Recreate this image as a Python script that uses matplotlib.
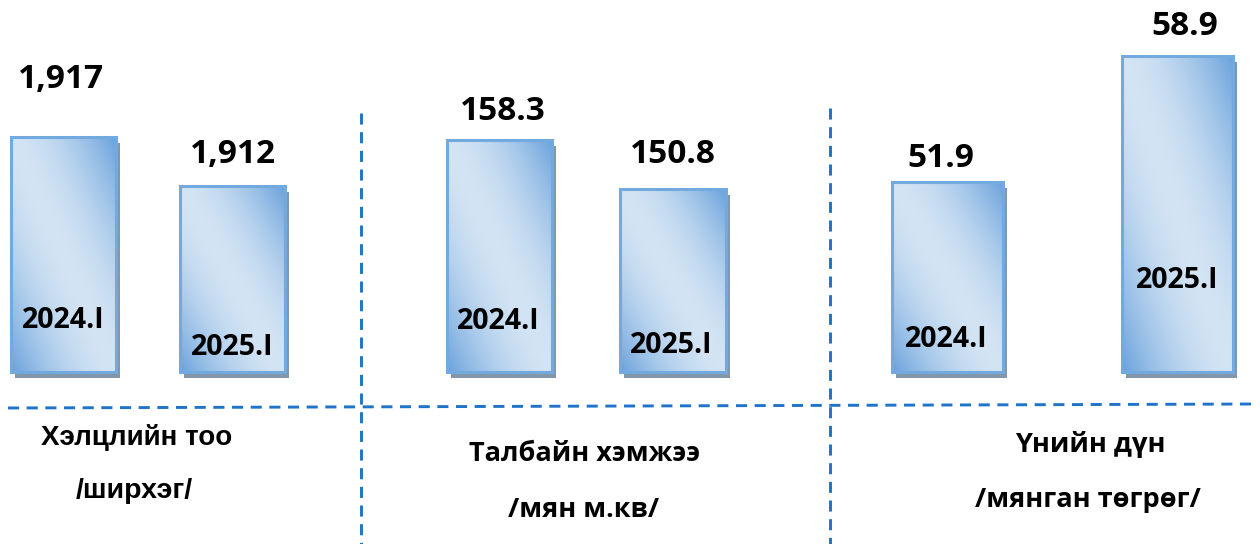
import numpy as np
import matplotlib.pyplot as plt
from matplotlib.lines import Line2D
from matplotlib.colors import to_rgb
import matplotlib.transforms as mtransforms

# data
periods = ["2024.I", "2025.I"]
deals = [1917, 1912]
area = [158.3, 150.8]
amount = [51.9, 58.9]
value_text = [["1,917", "1,912"], ["158.3", "150.8"], ["51.9", "58.9"]]
cat_line1 = ["Хэлцлийн тоо", "Талбайн хэмжээ", "Үнийн дүн"]
cat_line2 = ["/ширхэг/", "/мян м.кв/", "/мянган төгрөг/"]
series = [deals, area, amount]

W, H = 1260, 544
fig = plt.figure(figsize=(W / 100, H / 100), dpi=100)

# layout (pixels): first bar centre, spacing between bars, bar width, y limits
centres = [63.5, 499.5, 947.5]
spacing = [169, 173.5, 230]
bar_w = [0.62, 0.61, 0.48]
ylims = [(1893.1, 1931.0), (122.8, 179.7), (41.3, 62.0)]
base_px = 372

light = np.array(to_rgb("#d3e4f4"))
dark = np.array(to_rgb("#6aa2dc"))

u, v = np.meshgrid(np.linspace(0, 1, 120), np.linspace(0, 1, 240))
t = np.clip(np.abs(u + v - 1), 0, 1) ** 1.7
grad = light[None, None, :] + (dark - light)[None, None, :] * t[:, :, None]

for k in range(3):
    left = centres[k] - 0.35 * spacing[k]
    width = 1.7 * spacing[k]
    ax = fig.add_axes([left / W, 1 - base_px / H, width / W, base_px / H])
    ax.set_axis_off()
    lo, hi = ylims[k]
    vals = np.array(series[k])
    x = np.arange(len(vals))
    shadow = mtransforms.ScaledTranslation(4 / 100, -6 / 100, fig.dpi_scale_trans)
    ax.bar(x, vals - lo, bottom=lo, width=bar_w[k], color="#8397ab",
           transform=ax.transData + shadow, zorder=1, clip_on=False)
    bars = ax.bar(x, vals - lo, bottom=lo, width=bar_w[k], facecolor="none",
                  edgecolor="#72aadf", linewidth=2.2, zorder=3, clip_on=False)
    for b in bars:
        im = ax.imshow(grad, origin="lower", aspect="auto", zorder=2,
                       extent=[b.get_x(), b.get_x() + b.get_width(),
                               b.get_y(), b.get_y() + b.get_height()])
        im.set_clip_path(b)
    ax.set_xlim(-0.35, 1.35)
    ax.set_ylim(lo, hi)


def ftext(x, y, s, **kw):
    fig.text(x / W, 1 - y / H, s, ha="center", va="baseline", **kw)


num_font = ["Open Sans", "DejaVu Sans"]

# value labels above bars
val_pos = [[(61, 88), (233, 163)], [(503, 120), (673, 163)], [(941, 167), (1185, 35)]]
for k in range(3):
    for j in range(2):
        ftext(*val_pos[k][j], value_text[k][j], fontsize=24, fontweight="bold",
              family=num_font)

# period labels inside bars
in_pos = [[(63, 328), (232, 355)], [(498, 329), (671, 353)], [(946, 347), (1177, 288)]]
for k in range(3):
    for j in range(2):
        ftext(*in_pos[k][j], periods[j], fontsize=20.5, fontweight="bold",
              family=num_font)

# category labels
ftext(137, 445, cat_line1[0], fontsize=20, fontweight="bold", family="Liberation Sans")
ftext(134, 498, cat_line2[0], fontsize=20.5, fontweight="bold", family="Liberation Sans")
ftext(585, 461, cat_line1[1], fontsize=19.5, fontweight="bold", family=num_font)
ftext(584, 517, cat_line2[1], fontsize=19.5, fontweight="bold", family=num_font)
ftext(1090, 452, cat_line1[2], fontsize=19.5, fontweight="bold", family=num_font)
ftext(1088, 507, cat_line2[2], fontsize=19.5, fontweight="bold", family=num_font)

# dashed separators
dash = dict(color="#1f73c8", linewidth=2.1, linestyle=(0, (3.8, 2.6)))
for (x0, y0, x1, y1) in [(8, 408, 1256, 404), (361, 113, 361, 544), (830, 108, 830, 544)]:
    fig.add_artist(Line2D([x0 / W, x1 / W], [1 - y0 / H, 1 - y1 / H],
                          transform=fig.transFigure, **dash))

fig.savefig("out.png", dpi=100)
